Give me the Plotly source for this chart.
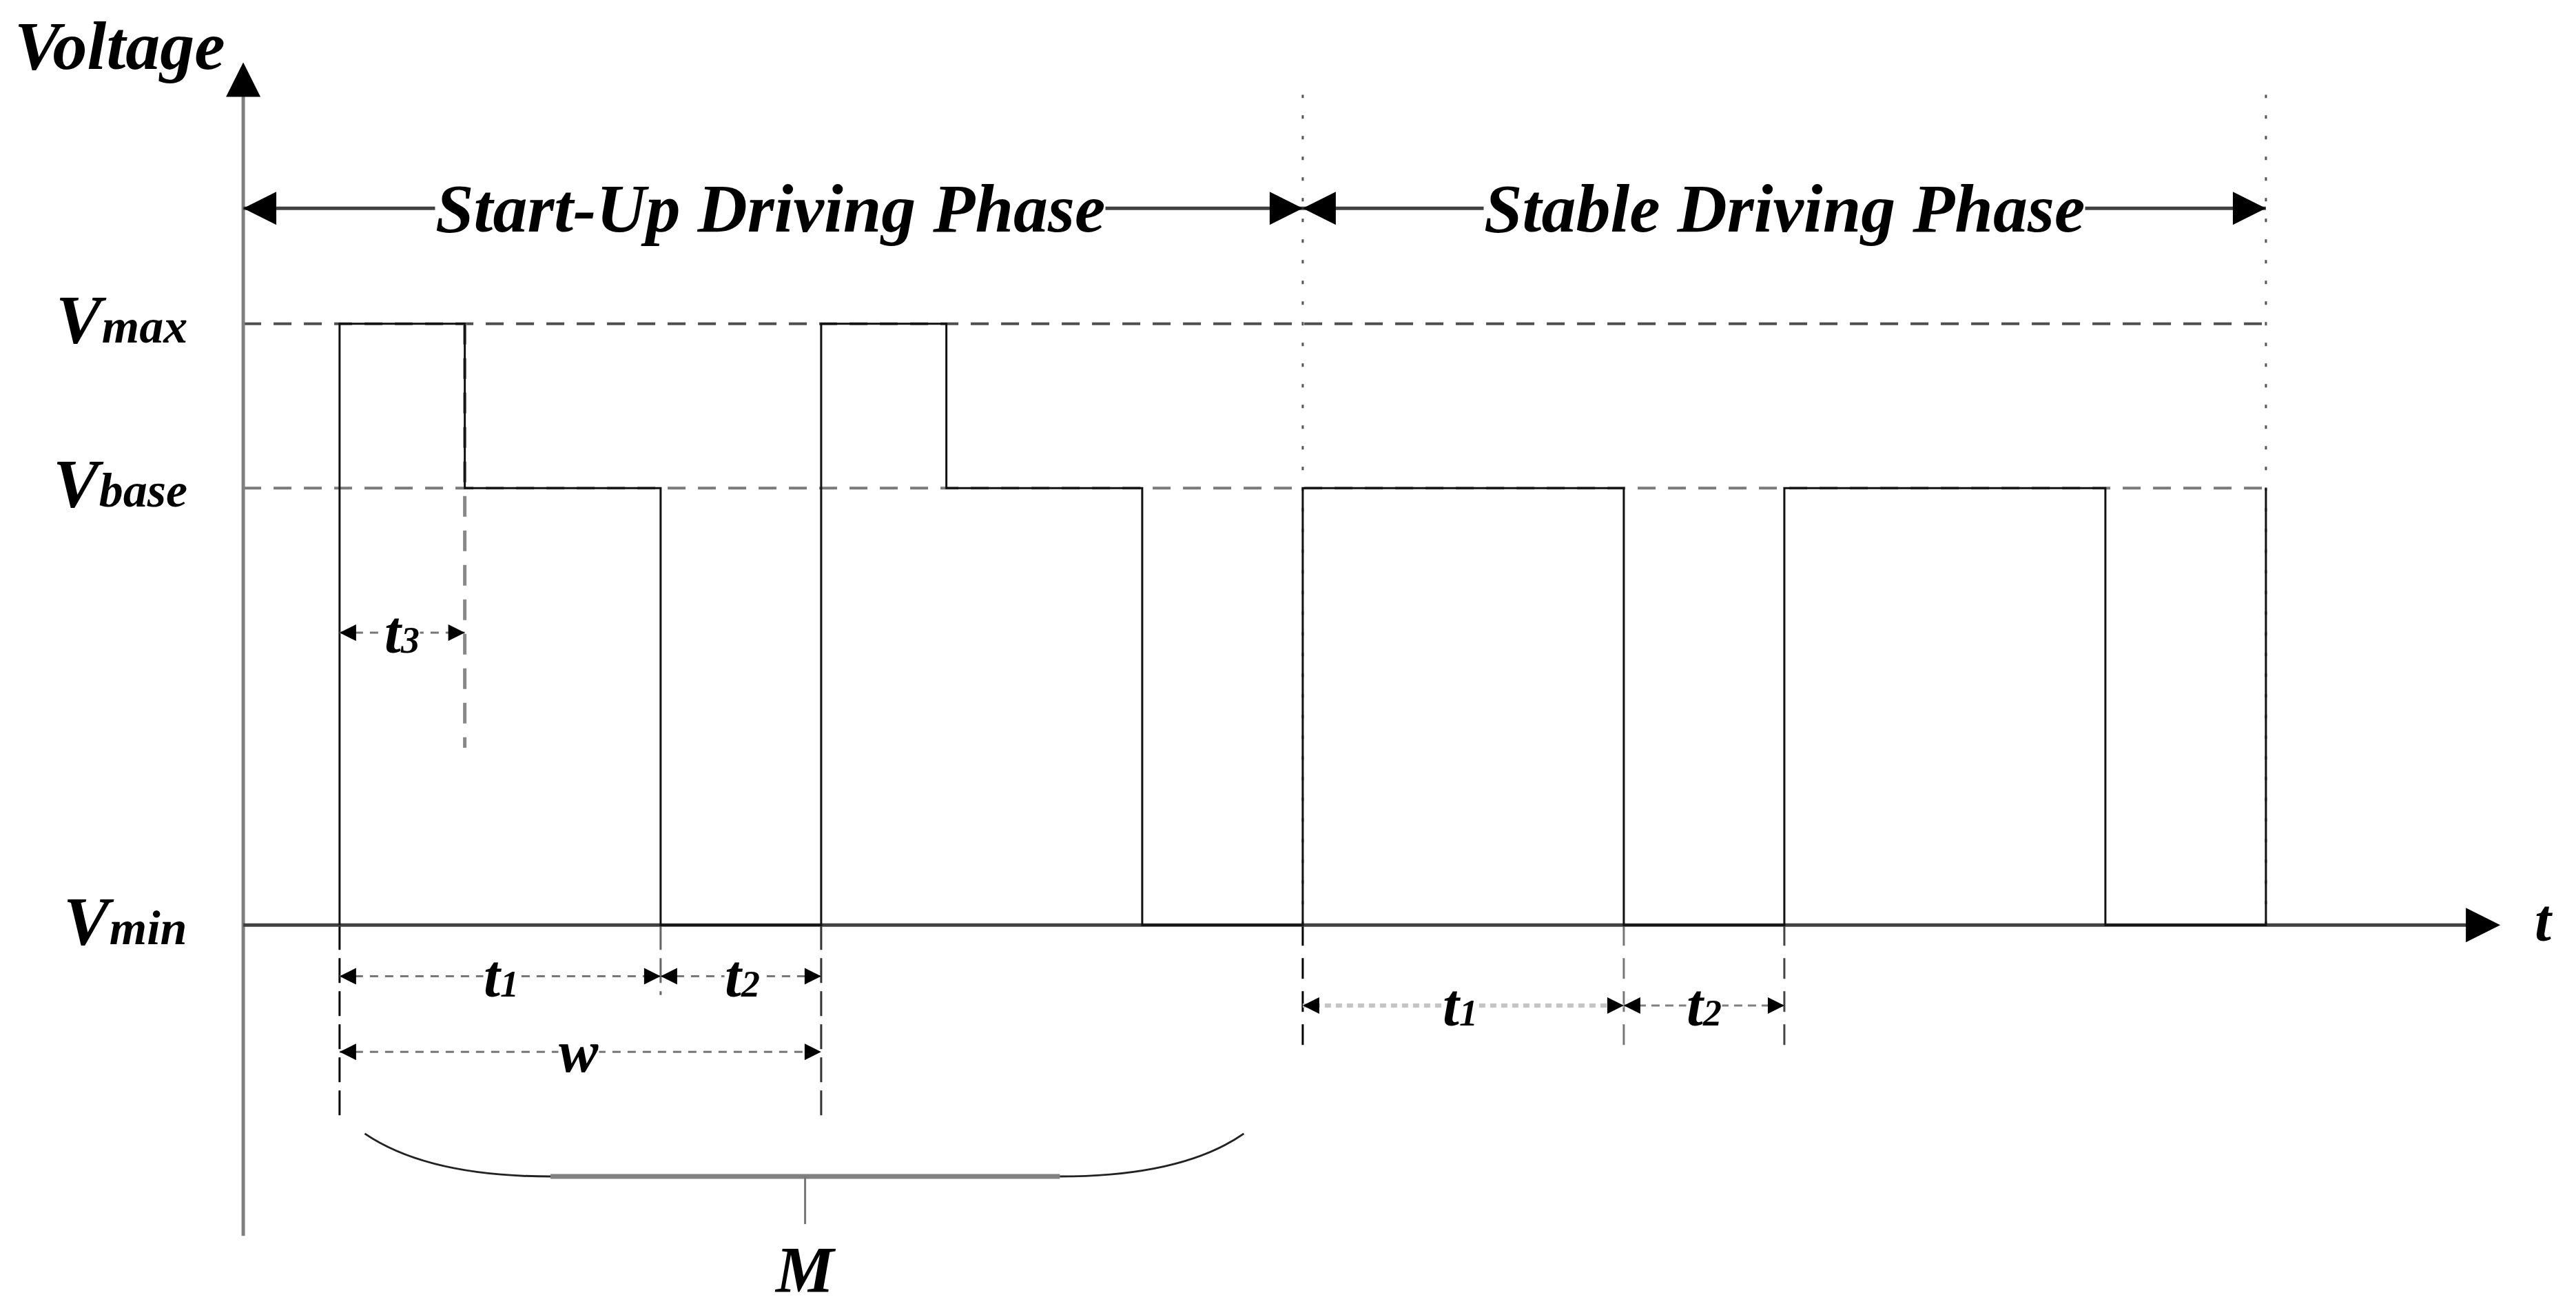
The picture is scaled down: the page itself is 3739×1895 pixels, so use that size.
import plotly.graph_objects as go

# time unit = t2, voltage unit = Vbase
V_MIN, V_BASE, V_MAX = 0.0, 1.0, 1.376

wave_t = [0.6, 0.6, 1.38, 1.38, 2.6, 2.6, 3.6, 3.6, 4.38, 4.38, 5.6, 5.6,
          6.6, 6.6, 8.6, 8.6, 9.6, 9.6, 11.6, 11.6, 12.6, 12.6]
wave_v = [0, 1.376, 1.376, 1, 1, 0, 0, 1.376, 1.376, 1, 1, 0,
          0, 1, 1, 0, 0, 1, 1, 0, 0, 1]

phase_t = [0, 6.6, 12.6]
phase_names = ["Start-Up Driving Phase", "Stable Driving Phase"]
phase_label_t = [3.285, 9.6]
phase_y = 1.64

level_v = [V_MAX, V_BASE, V_MIN]
level_main = ["V", "V", "V"]
level_sub = ["max", "base", "min"]

t_end = 14.06
y_top, y_bottom = 1.974, -0.711

# dimension arrows: (start, end, level, name, index, label_x)
startup_dims = [(0.6, 1.38, 0.669, "t", "3", 0.99),
                (0.6, 2.6, -0.117, "t", "1", 1.607),
                (2.6, 3.6, -0.117, "t", "2", 3.11),
                (0.6, 3.6, -0.29, "w", "", 2.09)]
stable_dims = [(6.6, 8.6, -0.184, "t", "1", 7.58),
               (8.6, 9.6, -0.184, "t", "2", 9.1)]

FONT = 'Liberation Serif, Times New Roman, serif'
fig = go.Figure()


def line(x, y, color, width, dash='solid'):
    fig.add_trace(go.Scatter(x=x, y=y, mode='lines', hoverinfo='skip', showlegend=False,
                             line=dict(color=color, width=width, dash=dash)))


def heads(x, y, symbol, size):
    fig.add_trace(go.Scatter(x=x, y=y, mode='markers', hoverinfo='skip', showlegend=False,
                             marker=dict(symbol=symbol, size=size, color='black',
                                         line=dict(width=0))))


def label(x, y, text, size, anchor='center', bg=None):
    fig.add_annotation(x=x, y=y, text=text, showarrow=False, xanchor=anchor, yanchor='middle',
                       bgcolor=bg, borderpad=0,
                       font=dict(family=FONT, size=size, color='black',
                                 style='italic', weight='bold'))


def small(main, idx, size_sub):
    if not idx:
        return main
    return main + '<span style="font-size:%dpx">%s</span>' % (size_sub, idx)


# reference levels
line([0, phase_t[2]], [V_MAX, V_MAX], '#505050', 4, '26px,18px')
line([0, phase_t[2]], [V_BASE, V_BASE], '#7a7a7a', 4, '26px,18px')

# phase borders (dotted)
for xb in phase_t[1:]:
    line([xb, xb], [0, 1.9], '#555555', 3, '5px,25px')

# t3 marker line
line([1.38, 1.38], [V_MAX, 0.406], '#888888', 5, '30px,20px')

# bottom extension lines
line([0.6, 0.6], [0, -0.44], 'black', 3, '36px,12px')
line([3.6, 3.6], [0, -0.44], '#333333', 3, '36px,12px')
line([2.6, 2.6], [0, -0.16], '#666666', 3, '36px,12px')
line([6.6, 6.6], [0, -0.29], 'black', 3, '30px,18px')
line([8.6, 8.6], [0, -0.29], '#777777', 3, '30px,18px')
line([9.6, 9.6], [0, -0.29], '#444444', 3, '30px,18px')

# axes
line([0, 0], [y_bottom, y_top - 0.05], '#808080', 5)
line([0, t_end - 0.05], [0, 0], '#404040', 5)

# waveform
line(wave_t, wave_v, '#111111', 3)

# phase arrows
line([phase_t[0], phase_t[2]], [phase_y, phase_y], '#404040', 5)
heads([phase_t[0], phase_t[1]], [phase_y, phase_y], 'arrow-left', 48)
heads([phase_t[1], phase_t[2]], [phase_y, phase_y], 'arrow-right', 48)
heads([0], [y_top], 'arrow-up', 50)
heads([t_end], [0], 'arrow-right', 50)

# dimension arrows
for a, b, lv, nm, ix, lx in startup_dims:
    line([a, b], [lv, lv], '#777777', 3, '12px,10px')
    heads([a], [lv], 'arrow-left', 24)
    heads([b], [lv], 'arrow-right', 24)
    label(lx, lv, small(nm, ix, 54), 86, bg='white')
line([6.6, 8.6], [-0.184, -0.184], '#c4c4c4', 6, '9px,7px')
line([8.6, 9.6], [-0.184, -0.184], '#808080', 3, '12px,8px')
for a, b, lv, nm, ix, lx in stable_dims:
    heads([a], [lv], 'arrow-left', 24)
    heads([b], [lv], 'arrow-right', 24)
    label(lx, lv, small(nm, ix, 54), 86, bg='white')

# brace for M
fig.add_shape(type='path', xref='x', yref='y',
              path='M0.757,-0.477 Q1.15,-0.575 1.914,-0.575',
              line=dict(color='#222222', width=3))
fig.add_shape(type='path', xref='x', yref='y',
              path='M6.233,-0.477 Q5.85,-0.575 5.087,-0.575',
              line=dict(color='#222222', width=3))
line([1.914, 5.087], [-0.575, -0.575], '#808080', 7)
line([3.5, 3.5], [-0.575, -0.684], '#777777', 3)
label(3.5, -0.79, "M", 95)

# text labels
label(-0.768, 2.012, "Voltage", 100)
for v, m, s in zip(level_v, level_main, level_sub):
    label(-0.345, v + 0.01, small(m, s, 70), 100, anchor='right')
label(14.33, 0.01, "t", 86)
for name, lx in zip(phase_names, phase_label_t):
    label(lx, phase_y, name, 100, bg='white')

# the page adds an 8px body margin, so the ranges are shifted by that much
fig.update_layout(
    width=3739, height=1895,
    margin=dict(l=0, r=0, t=0, b=0),
    paper_bgcolor='white', plot_bgcolor='white',
    xaxis=dict(range=[-1.481, 14.566], visible=False),
    yaxis=dict(range=[-0.884, 2.104], visible=False),
    showlegend=False,
)

fig.write_html("out.html")
